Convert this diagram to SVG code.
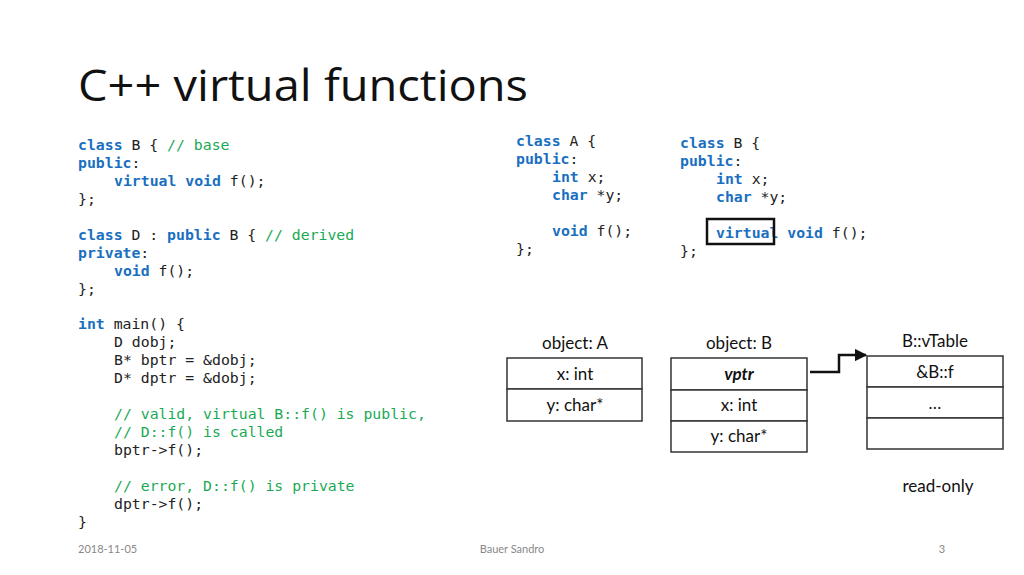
<svg xmlns="http://www.w3.org/2000/svg" width="1024" height="575" viewBox="0 0 1024 575">
<defs>
<style>
.c{font-family:"DejaVu Sans Mono",monospace;font-size:14.8px;fill:#222}
.k{fill:#1a6fc0;font-weight:bold}
.g{fill:#1aaa55}
.l{font-family:Lato,"Liberation Sans",sans-serif;font-size:17px;fill:#111;text-anchor:middle}
.f{font-family:Lato,"Liberation Sans",sans-serif;font-size:11px;fill:#888}
.b{fill:#fff;stroke:#333;stroke-width:1.5}
</style>
<marker id="ah" viewBox="0 0 10 10" refX="9" refY="5" markerWidth="5" markerHeight="5" orient="auto"><path d="M0,0L10,5L0,10z" fill="#111"/></marker>
</defs>
<rect width="1024" height="575" fill="#fff"/>
<text x="78" y="101" font-family="'Open Sans',Lato,sans-serif" font-size="44" fill="#111" textLength="450" lengthAdjust="spacingAndGlyphs">C++ virtual functions</text>
<g id="code-left" class="c">
<text x="78" y="150"><tspan class="k">class</tspan> B { <tspan class="g">// base</tspan></text>
<text x="78" y="168"><tspan class="k">public</tspan>:</text>
<text x="114" y="186"><tspan class="k">virtual</tspan> <tspan class="k">void</tspan> f();</text>
<text x="78" y="204">};</text>
<text x="78" y="240"><tspan class="k">class</tspan> D : <tspan class="k">public</tspan> B { <tspan class="g">// derived</tspan></text>
<text x="78" y="258"><tspan class="k">private</tspan>:</text>
<text x="114" y="276"><tspan class="k">void</tspan> f();</text>
<text x="78" y="294">};</text>
<text x="78" y="329"><tspan class="k">int</tspan> main() {</text>
<text x="114" y="347">D dobj;</text>
<text x="114" y="365">B* bptr = &amp;dobj;</text>
<text x="114" y="383">D* dptr = &amp;dobj;</text>
<text x="114" y="419" class="g">// valid, virtual B::f() is public,</text>
<text x="114" y="437" class="g">// D::f() is called</text>
<text x="114" y="455">bptr-&gt;f();</text>
<text x="114" y="491" class="g">// error, D::f() is private</text>
<text x="114" y="509">dptr-&gt;f();</text>
<text x="78" y="527">}</text>
</g>
<g id="code-A" class="c">
<text x="516" y="146"><tspan class="k">class</tspan> A {</text>
<text x="516" y="164"><tspan class="k">public</tspan>:</text>
<text x="552" y="182"><tspan class="k">int</tspan> x;</text>
<text x="552" y="200"><tspan class="k">char</tspan> *y;</text>
<text x="552" y="236"><tspan class="k">void</tspan> f();</text>
<text x="516" y="254">};</text>
</g>
<g id="code-B" class="c">
<text x="680" y="148"><tspan class="k">class</tspan> B {</text>
<text x="680" y="166"><tspan class="k">public</tspan>:</text>
<text x="716" y="184"><tspan class="k">int</tspan> x;</text>
<text x="716" y="202"><tspan class="k">char</tspan> *y;</text>
<text x="716" y="238"><tspan class="k">virtual</tspan> <tspan class="k">void</tspan> f();</text>
<text x="680" y="256">};</text>
</g>
<rect id="highlight" x="707" y="219" width="67" height="25" fill="none" stroke="#111" stroke-width="2.5"/>
<g id="objA">
<text class="l" x="575" y="349">object: A</text>
<rect class="b" x="507" y="358" width="135" height="31"/>
<rect class="b" x="507" y="389" width="135" height="32"/>
<text class="l" x="575" y="380">x: int</text>
<text class="l" x="575" y="411">y: char*</text>
</g>
<g id="objB">
<text class="l" x="739" y="349">object: B</text>
<rect class="b" x="671" y="358" width="136" height="32"/>
<rect class="b" x="671" y="390" width="136" height="31"/>
<rect class="b" x="671" y="421" width="136" height="31"/>
<text class="l" x="739" y="380" font-weight="bold" font-style="italic">vptr</text>
<text class="l" x="739" y="411">x: int</text>
<text class="l" x="739" y="442">y: char*</text>
</g>
<g id="vtable">
<text class="l" x="935" y="347">B::vTable</text>
<rect class="b" x="867" y="356" width="136" height="31"/>
<rect class="b" x="867" y="387" width="136" height="31"/>
<rect class="b" x="867" y="418" width="136" height="31"/>
<text class="l" x="935" y="378">&amp;B::f</text>
<text class="l" x="935" y="409">…</text>
<text class="l" x="938" y="492">read-only</text>
</g>
<g id="connectors">
<path d="M810,372H839V355H866" fill="none" stroke="#111" stroke-width="2.5" marker-end="url(#ah)"/>
</g>
<g id="footer">
<text class="f" x="78" y="553">2018-11-05</text>
<text class="f" x="512" y="553" text-anchor="middle">Bauer Sandro</text>
<text class="f" x="942" y="553" text-anchor="middle">3</text>
</g>
</svg>
